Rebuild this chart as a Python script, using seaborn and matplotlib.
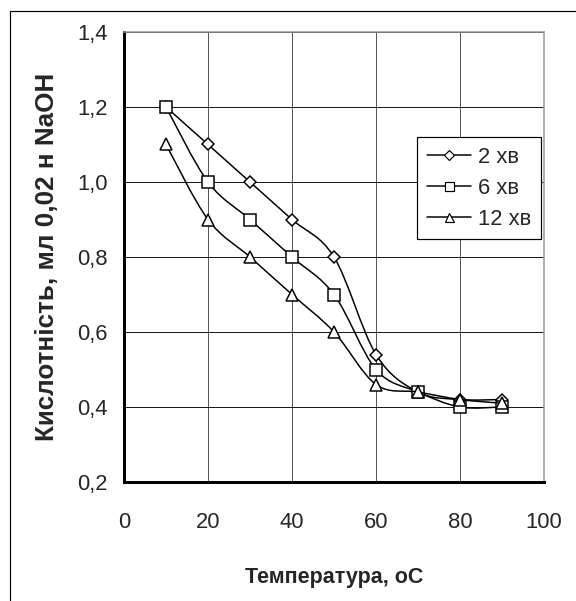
import numpy as np
import pandas as pd
import matplotlib
matplotlib.use('Agg')
import matplotlib.pyplot as plt
import seaborn as sns
from matplotlib.path import Path
from matplotlib.patches import PathPatch, Rectangle
from matplotlib.lines import Line2D

# дані
temperature = [10, 20, 30, 40, 50, 60, 70, 80, 90]
acid_2 = [1.2, 1.1, 1.0, 0.9, 0.8, 0.54, 0.44, 0.42, 0.42]
acid_6 = [1.2, 1.0, 0.9, 0.8, 0.7, 0.5, 0.44, 0.40, 0.40]
acid_12 = [1.1, 0.9, 0.8, 0.7, 0.6, 0.46, 0.44, 0.42, 0.41]
series_names = ['2 хв', '6 хв', '12 хв']
x_ticks = [0, 20, 40, 60, 80, 100]
y_ticks = [0.2, 0.4, 0.6, 0.8, 1.0, 1.2, 1.4]

sns.set_style('white')
plt.rcParams['font.family'] = ['Liberation Sans', 'DejaVu Sans']


def smooth_path(x, y):
    # згладжування як в Excel (Catmull-Rom -> Bezier)
    pts = np.column_stack([x, y]).astype(float)
    verts = [pts[0]]
    codes = [Path.MOVETO]
    n = len(pts)
    for i in range(n - 1):
        p0 = pts[i - 1] if i > 0 else pts[i]
        p1 = pts[i]
        p2 = pts[i + 1]
        p3 = pts[i + 2] if i + 2 < n else pts[i + 1]
        c1 = p1 + (p2 - p0) / 6
        c2 = p2 - (p3 - p1) / 6
        verts += [c1, c2, p2]
        codes += [Path.CURVE4] * 3
    return Path(verts, codes)


fig = plt.figure(figsize=(576 / 72, 601 / 72), dpi=72)
ax = fig.add_axes([124 / 576, 1 - 482 / 601, 420 / 576, 450 / 601])

markers = ['D', 's', '^']
sizes = [9, 12, 12]
data = [acid_2, acid_6, acid_12]

for k, (name, vals) in enumerate(zip(series_names, data)):
    patch = PathPatch(smooth_path(temperature, vals), fill=False, ec='black', lw=1.5, zorder=3 + 2 * k)
    ax.add_patch(patch)
    df = pd.DataFrame({'t': temperature, 'v': vals})
    sns.lineplot(data=df, x='t', y='v', ax=ax, lw=0, marker=markers[k], ms=sizes[k],
                 mfc='white', mec='black', mew=1.5, color='black', zorder=4 + 2 * k, legend=False)

ax.set_xlim(0, 100)
ax.set_ylim(0.2, 1.4)
ax.set_xticks(x_ticks)
ax.set_yticks(y_ticks)
ax.set_xticklabels([str(v) for v in x_ticks])
ax.set_yticklabels([f'{v:.1f}'.replace('.', ',') for v in y_ticks])
ax.tick_params(axis='both', labelsize=22, direction='out', length=6, width=3, color='black')
ax.tick_params(axis='x', pad=24)
ax.tick_params(axis='y', pad=10)

ax.grid(True, axis='y', color='black', lw=0.9)
ax.grid(True, axis='x', color='#444444', lw=0.9)
ax.set_axisbelow(True)

for s in ['left', 'bottom']:
    ax.spines[s].set_color('black')
    ax.spines[s].set_linewidth(3)
for s in ['top', 'right']:
    ax.spines[s].set_color('#999999')
    ax.spines[s].set_linewidth(1.5)

ax.set_xlabel('Температура, оС', fontsize=21.5, fontweight='bold', labelpad=34)
ax.set_ylabel('Кислотність, мл 0,02 н NaOH', fontsize=26, fontweight='bold', labelpad=18)

handles = [Line2D([], [], color='black', lw=1.5, marker=m, ms=s * 0.75, mfc='white', mec='black', mew=1.2)
           for m, s in zip(markers, sizes)]
leg = ax.legend(handles, series_names, loc='upper right', bbox_to_anchor=(0.993, 0.767),
                fontsize=22, frameon=True, fancybox=False, framealpha=1, edgecolor='black',
                handlelength=2.0, labelspacing=0.45, borderpad=0.45, handletextpad=0.3,
                borderaxespad=0)
leg.get_frame().set_linewidth(1.2)
leg.set_zorder(10)

# рамка діаграми
fig.patches.append(Rectangle((10 / 576, -0.1), 1.2, 1 - 11 / 601 + 0.1, transform=fig.transFigure,
                             fill=False, ec='black', lw=1.2))

fig.savefig('out.png', dpi=72)
